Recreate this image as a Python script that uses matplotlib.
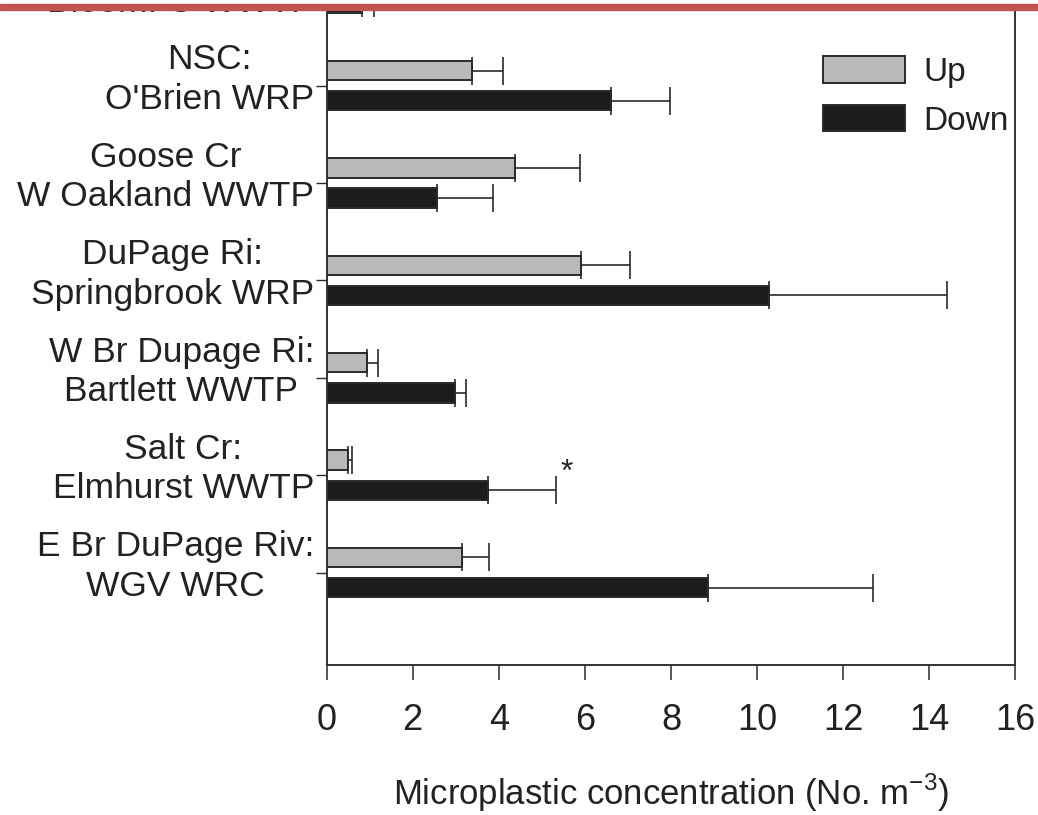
import numpy as np
import matplotlib.pyplot as plt
from matplotlib.patches import Rectangle

plt.rcParams['font.family'] = ['Liberation Sans', 'DejaVu Sans']
plt.rcParams['mathtext.fontset'] = 'custom'
plt.rcParams['mathtext.rm'] = 'Liberation Sans'

# sites from bottom to top; the top one is cut off by the crop of the page
sites = ["E Br DuPage Riv:\nWGV WRC",
         "Salt Cr:\nElmhurst WWTP",
         "W Br Dupage Ri:\nBartlett WWTP",
         "DuPage Ri:\nSpringbrook WRP",
         "Goose Cr\nW Oakland WWTP",
         "NSC:\nO'Brien WRP",
         "\nBloom. C WWTP"]
# Up = upstream of the plant, Down = downstream (No. m-3)
up_mean = [3.14, 0.50, 0.95, 5.92, 4.37, 3.37, np.nan]   # top one not visible
up_err = [0.63, 0.09, 0.24, 1.12, 1.51, 0.72, np.nan]
down_mean = [8.85, 3.75, 2.98, 10.28, 2.56, 6.61, 0.82]
down_err = [3.83, 1.58, 0.25, 4.12, 1.30, 1.36, 0.28]
xticks = [0, 2, 4, 6, 8, 10, 12, 14, 16]

txt = '#222222'
edge = '#2b2b2b'

fig = plt.figure(figsize=(10.38, 8.15), dpi=100)
# axes runs above the top of the picture (the original figure is cropped)
ax = fig.add_axes([0.3146, 0.184, 0.6637, 0.926])

y = np.arange(len(sites))
off = 0.155
h = 0.2
ekw = dict(ecolor=edge, elinewidth=1.2, capsize=10, capthick=1.2)

up_e = np.vstack([np.zeros(len(sites)), up_err])
down_e = np.vstack([np.zeros(len(sites)), down_err])

ax.barh(y + off, up_mean, height=h, color='#b9b9b9', edgecolor=edge,
        linewidth=1.4, xerr=up_e, error_kw=ekw, label='Up')
ax.barh(y - off, down_mean, height=h, color='#1c1c1c', edgecolor=edge,
        linewidth=1.4, xerr=down_e, error_kw=ekw, label='Down')

# significance mark on Salt Cr
ax.text(5.58, 1.02, '*', fontsize=23, color=txt, ha='center', va='center')

ax.set_xlim(0, 16)
ax.set_ylim(-0.95, 6.8)
ax.set_xticks(xticks)
ax.set_xticklabels([str(v) for v in xticks], fontsize=26, color=txt)

# tick marks at the group centre, the labels sit a bit higher (minor ticks)
ax.set_yticks(y)
ax.set_yticklabels([])
ax.set_yticks(y + 0.13, minor=True)
ax.set_yticklabels(sites, minor=True, fontsize=25.5, color=txt,
                   multialignment='center', linespacing=1.25)

ax.tick_params(axis='x', direction='out', length=11, width=1.1, pad=16, color=edge)
ax.tick_params(axis='y', which='major', direction='out', length=8, width=1.0,
               color=edge)
ax.tick_params(axis='y', which='minor', length=0, pad=9)

for s in ['left', 'bottom', 'right']:
    ax.spines[s].set_linewidth(1.4)
    ax.spines[s].set_color('#333333')
ax.spines['top'].set_visible(False)

ax.set_xlabel('Microplastic concentration (No. m$^{\\mathrm{-3}}$)', fontsize=25,
              color=txt, labelpad=25)

fig.legend(loc='upper left', bbox_to_anchor=(0.793, 0.931), frameon=False,
           fontsize=24, handlelength=2.45, handleheight=0.85,
           handletextpad=0.55, labelspacing=0.5, borderpad=0,
           borderaxespad=0, labelcolor=txt)

# page border at the top of the crop
fig.add_artist(Rectangle((0, 1 - 4 / 815), 1, 4 / 815, transform=fig.transFigure,
                         color='white', zorder=10))
fig.add_artist(Rectangle((0, 1 - 9.5 / 815), 1, 5.5 / 815, transform=fig.transFigure,
                         color='#c25354', zorder=11))

fig.savefig('out.png', dpi=100)
